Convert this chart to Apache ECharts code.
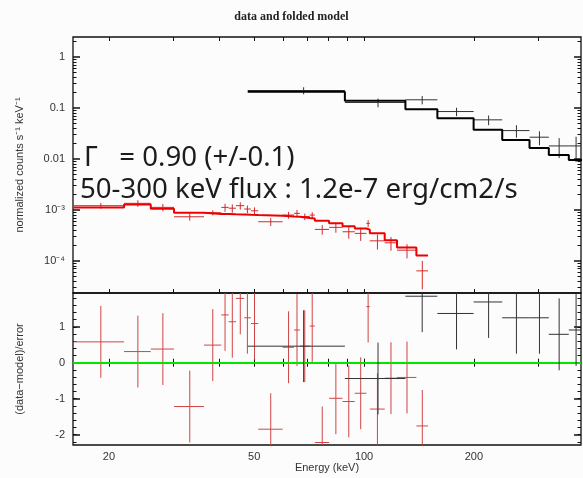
<!DOCTYPE html>
<html>
<head>
<meta charset="utf-8">
<script src="https://cdn.jsdelivr.net/npm/echarts@6/dist/echarts.min.js"></script>
<style>
html,body{margin:0;padding:0;background:#fcfcfc;}
#c{width:583px;height:478px;}
</style>
</head>
<body>
<div id="c"></div>
<script>
// ---------- axis ranges / ticks ----------
const X_MIN = 15.94, X_MAX = 393;
const Y_MIN = 2.34e-5, Y_MAX = 2.47;
const R_MIN = -2.29, R_MAX = 1.94;
const xTickLabels = [20, 50, 100, 200];
const xTicksAll = [20, 30, 40, 50, 60, 70, 80, 90, 100, 200, 300];
const yTopLabels = [1e-4, 1e-3, 0.01, 0.1, 1];
const yResidLabels = [-2, -1, 0, 1];

// ---------- red spectrum (low energy detector) ----------
const redEdges = [16.0, 22.0, 26.04, 30.15, 36.42, 40.62, 42.55, 44.56, 46.95, 48.98, 51.29, 59.8, 64.3, 66.7, 71.0, 73.3, 80.2, 87.3, 94.3, 101.5, 103.7, 113.9, 123.1, 139.1, 149.7];
const redCenters = [19.0, 24.0, 28.1, 33.3, 38.5, 41.6, 43.55, 45.8, 47.9, 50.1, 55.5, 62.1, 65.5, 68.8, 72.1, 76.8, 83.7, 90.8, 97.9, 102.6, 108.8, 118.5, 131.1, 144.4];
const redCounts = [1.21e-3, 1.345e-3, 1.12e-3, 7.33e-4, 8.79e-4, 1.12e-3, 1.08e-3, 1.21e-3, 1.04e-3, 9.6e-4, 5.85e-4, 7.92e-4, 8.55e-4, 7.4e-4, 7.92e-4, 4.14e-4, 4.54e-4, 3.72e-4, 3.46e-4, 5.43e-4, 2.47e-4, 2.26e-4, 1.62e-4, 6.36e-5];
const redErrors = [1.55e-4, 2.0e-4, 1.85e-4, 1.2e-4, 1.0e-4, 2.0e-4, 2.0e-4, 2.0e-4, 1.8e-4, 1.6e-4, 1.0e-4, 1.2e-4, 1.4e-4, 1.1e-4, 1.1e-4, 0.88e-4, 0.97e-4, 1.0e-4, 1.0e-4, 0.85e-4, 0.8e-4, 0.68e-4, 0.5e-4, 0.36e-4];
const redModel = [1.12e-3, 1.27e-3, 1.05e-3, 8.8e-4, 8.3e-4, 8.3e-4, 8.2e-4, 8.1e-4, 8.0e-4, 7.9e-4, 7.7e-4, 7.4e-4, 7.3e-4, 6.9e-4, 6.8e-4, 6.1e-4, 5.5e-4, 4.8e-4, 4.3e-4, 4.1e-4, 3.5e-4, 2.55e-4, 1.82e-4, 1.27e-4];
const redResid = [0.58, 0.31, 0.38, -1.22, 0.49, 1.33, 1.14, 1.79, 1.25, 1.09, -1.85, 0.43, 0.91, 0.46, 1.02, -2.22, -0.99, -1.08, -0.85, 1.56, -1.29, -0.43, -0.41, -1.76];

// ---------- black spectrum (high energy detector) ----------
const blackEdges = [48.0, 88.6, 129.8, 158.8, 199.6, 239.1, 284.0, 320.8, 363.9, 398.0];
const blackCenters = [68.3, 109.2, 144.3, 179.2, 219.4, 261.5, 302.4, 342.4, 381.0];
const blackCounts = [0.22, 0.128, 0.1446, 0.0851, 0.0585, 0.036, 0.0267, 0.018, 0.018];
const blackErrors = [0.035, 0.025, 0.027, 0.016, 0.0126, 0.0099, 0.0082, 0.0076, 0.0093];
const blackModel = [0.208, 0.139, 0.0948, 0.0631, 0.0372, 0.0236, 0.0164, 0.012, 0.00955];
const blackResid = [0.46, -0.44, 1.85, 1.37, 1.69, 1.25, 1.25, 0.79, 0.91];

// ---------- helpers ----------
function crossItems(edges, centers, vals, errs) {
  return vals.map((v, i) => [edges[i], edges[i + 1], centers[i], v, v - errs[i], v + errs[i]]);
}
function residItems(edges, centers, res) {
  return res.map((v, i) => [edges[i], edges[i + 1], centers[i], v, v - 1, v + 1]);
}
function stepItems(edges, model) {
  const pts = model.map((m, i) => [edges[i], m]);
  pts.push([edges[edges.length - 1], model[model.length - 1]]);
  return pts;
}
function crossRenderer(color, width) {
  return function (params, api) {
    const cs = params.coordSys;
    const x0 = cs.x, x1 = cs.x + cs.width, y0 = cs.y, y1 = cs.y + cs.height;
    const cx = v => Math.max(x0, Math.min(x1, v));
    const cy = v => Math.max(y0, Math.min(y1, v));
    const a = api.coord([api.value(0), api.value(3)]);
    const b = api.coord([api.value(1), api.value(3)]);
    const c = api.coord([api.value(2), api.value(4)]);
    const d = api.coord([api.value(2), api.value(5)]);
    const st = { stroke: color, lineWidth: width };
    const children = [];
    if (a[1] >= y0 && a[1] <= y1) {
      const xa = cx(a[0]), xb = cx(b[0]);
      if (xb > xa) children.push({ type: 'line', shape: { x1: xa, y1: a[1], x2: xb, y2: b[1] }, style: st });
    }
    if (c[0] >= x0 && c[0] <= x1) {
      const yc = cy(c[1]), yd = cy(d[1]);
      if (yc !== yd) children.push({ type: 'line', shape: { x1: c[0], y1: yc, x2: d[0], y2: yd }, style: st });
    }
    return { type: 'group', children: children };
  };
}
const minorTop = [];
for (let k = -5; k <= 0; k++) for (let m = 2; m <= 9; m++) minorTop.push(m * Math.pow(10, k));
const minorRes = [];
for (let t = -22; t <= 18; t += 2) minorRes.push(t / 10);

const sup = { '-': '⁻', '0': '⁰', '1': '¹', '2': '²', '3': '³', '4': '⁴', '5': '⁵' };
function topFmt(v) {
  if (v >= 0.009) return String(+v.toPrecision(1));
  const e = Math.round(Math.log10(v));
  return '10' + String(e).split('').map(ch => sup[ch]).join('');
}
const FONT = 'Liberation Sans';
const labelStyle = { color: '#333', fontSize: 11, fontFamily: FONT };

function xAx(grid, pos, showLabel, name) {
  return {
    type: 'log', logBase: 10, gridIndex: grid, position: pos, min: X_MIN, max: X_MAX,
    axisLine: { show: false }, splitLine: { show: false }, minorTick: { show: false },
    axisTick: { show: true, inside: true, length: 4, customValues: xTicksAll, lineStyle: { color: '#111', width: 1 } },
    axisLabel: Object.assign({ show: showLabel, customValues: xTickLabels, margin: 6, formatter: v => String(Math.round(v)) }, labelStyle),
    name: name || '', nameLocation: 'middle', nameGap: 17,
    nameTextStyle: { color: '#333', fontSize: 11, fontFamily: FONT }
  };
}
function yAx(grid, pos, type, min, max, ticks, len, showLabel, fmt, name) {
  return {
    type: type, logBase: 10, gridIndex: grid, position: pos, min: min, max: max,
    axisLine: { show: false }, splitLine: { show: false }, minorTick: { show: false },
    axisTick: { show: true, inside: true, length: len, customValues: ticks, lineStyle: { color: '#111', width: len > 4 ? 1.5 : 1 } },
    axisLabel: Object.assign({ show: showLabel, customValues: ticks, margin: 8, formatter: fmt }, labelStyle),
    name: name || '', nameLocation: 'middle', nameGap: 48, nameRotate: 90,
    nameTextStyle: { color: '#333', fontSize: 11, fontFamily: FONT }
  };
}

const chart = echarts.init(document.getElementById('c'), null, { renderer: 'canvas' });
chart.setOption({
  animation: false,
  backgroundColor: '#fcfcfc',
  title: {
    text: 'data and folded model', left: 'center', top: 6,
    textStyle: { fontFamily: 'Liberation Serif', fontWeight: 'bold', fontSize: 12, color: '#222' }
  },
  grid: [
    { left: 73, top: 37, width: 508, height: 256, show: true, borderColor: '#111', borderWidth: 1.3, backgroundColor: 'transparent' },
    { left: 73, top: 293, width: 508, height: 152, show: true, borderColor: '#111', borderWidth: 1.3, backgroundColor: 'transparent' }
  ],
  xAxis: [
    xAx(0, 'bottom', false),
    xAx(0, 'top', false),
    xAx(1, 'bottom', true, 'Energy (keV)'),
    xAx(1, 'top', false)
  ],
  yAxis: [
    yAx(0, 'left', 'log', Y_MIN, Y_MAX, yTopLabels, 7, true, topFmt, 'normalized counts s⁻¹ keV⁻¹'),
    yAx(0, 'left', 'log', Y_MIN, Y_MAX, minorTop, 3.5, false, topFmt),
    yAx(0, 'right', 'log', Y_MIN, Y_MAX, yTopLabels, 7, false, topFmt),
    yAx(0, 'right', 'log', Y_MIN, Y_MAX, minorTop, 3.5, false, topFmt),
    yAx(1, 'left', 'value', R_MIN, R_MAX, yResidLabels, 7, true, v => String(Math.round(v)), '(data−model)/error'),
    yAx(1, 'left', 'value', R_MIN, R_MAX, minorRes, 3.5, false, v => String(v)),
    yAx(1, 'right', 'value', R_MIN, R_MAX, yResidLabels, 7, false, v => String(v)),
    yAx(1, 'right', 'value', R_MIN, R_MAX, minorRes, 3.5, false, v => String(v))
  ],
  graphic: [
    { type: 'text', x: 84, y: 158, z: 100,
      style: { text: 'Γ   = 0.90 (+/-0.1)', font: '27.6px "Noto Sans"', fill: '#1c1c1c', verticalAlign: 'middle', align: 'left' } },
    { type: 'text', x: 80, y: 190, z: 100,
      style: { text: '50-300 keV flux : 1.2e-7 erg/cm2/s', font: '27.6px "Noto Sans"', fill: '#1c1c1c', verticalAlign: 'middle', align: 'left' } }
  ],
  series: [
    { type: 'custom', name: 'red data', xAxisIndex: 0, yAxisIndex: 0, z: 3,
      renderItem: crossRenderer('#d42a2a', 1), encode: { x: [0, 1, 2], y: [3, 4, 5] },
      data: crossItems(redEdges, redCenters, redCounts, redErrors) },
    { type: 'line', name: 'red model', xAxisIndex: 0, yAxisIndex: 0, z: 4, step: 'end', symbol: 'none',
      lineStyle: { color: '#ee0000', width: 2 }, data: stepItems(redEdges, redModel) },
    { type: 'custom', name: 'black data', xAxisIndex: 0, yAxisIndex: 0, z: 3,
      renderItem: crossRenderer('#333333', 1), encode: { x: [0, 1, 2], y: [3, 4, 5] },
      data: crossItems(blackEdges, blackCenters, blackCounts, blackErrors) },
    { type: 'line', name: 'black model', xAxisIndex: 0, yAxisIndex: 0, z: 4, step: 'end', symbol: 'none',
      lineStyle: { color: '#000000', width: 2 }, data: stepItems(blackEdges, blackModel) },
    { type: 'custom', name: 'red resid', xAxisIndex: 2, yAxisIndex: 4, z: 3,
      renderItem: crossRenderer('#cf4545', 1), encode: { x: [0, 1, 2], y: [3, 4, 5] },
      data: residItems(redEdges, redCenters, redResid) },
    { type: 'custom', name: 'black resid', xAxisIndex: 2, yAxisIndex: 4, z: 5,
      renderItem: crossRenderer('#333333', 1), encode: { x: [0, 1, 2], y: [3, 4, 5] },
      data: residItems(blackEdges, blackCenters, blackResid),
      markLine: { silent: true, symbol: 'none', label: { show: false },
        lineStyle: { color: '#00e600', width: 2, type: 'solid' }, data: [{ yAxis: 0 }] } }
  ]
});
</script>
</body>
</html>
